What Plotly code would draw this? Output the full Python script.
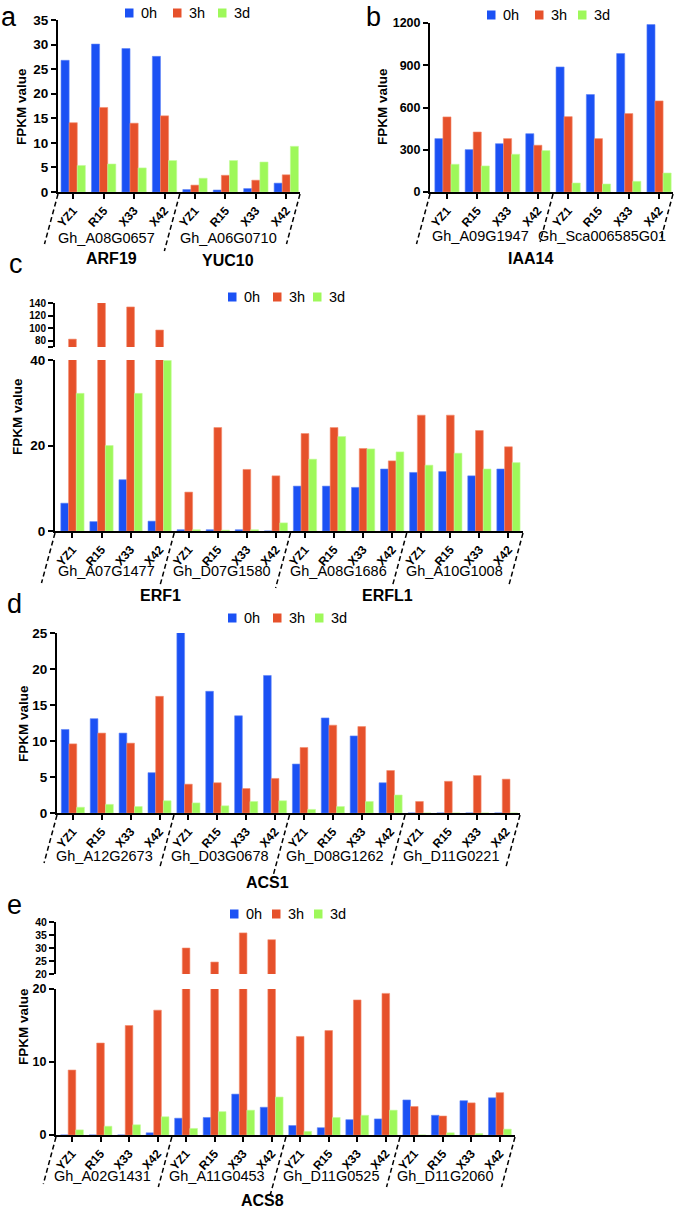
import plotly.graph_objects as go

W, H = 675, 1209
FONT = "Liberation Sans, Arial, Helvetica, sans-serif"

TIMES = ["0h", "3h", "3d"]
COLORS = ["#1b51f4", "#e6512b", "#9ef85a"]
EDGES = ["#5f85f7", "#f38b6c", "#c4fb9c"]
cultivars = ["YZ1", "R15", "X33", "X42"]

# ---------------- data ----------------
a_genes = ["Gh_A08G0657", "Gh_A06G0710"]
a_families = ["ARF19", "YUC10"]
a_0h = [26.8, 30.1, 29.2, 27.6, 0.5, 0.4, 0.7, 1.8]
a_3h = [14.1, 17.2, 14.0, 15.5, 1.4, 3.4, 2.4, 3.5]
a_3d = [5.4, 5.7, 4.9, 6.4, 2.8, 6.4, 6.1, 9.3]

b_genes = ["Gh_A09G1947", "Gh_Sca006585G01"]
b_families = ["IAA14"]
b_0h = [379, 301, 343, 414, 888, 692, 983, 1189]
b_3h = [533, 426, 379, 332, 535, 379, 557, 647]
b_3d = [197, 185, 268, 294, 64, 57, 76, 135]

c_genes = ["Gh_A07G1477", "Gh_D07G1580", "Gh_A08G1686", "Gh_A10G1008"]
c_families = ["ERF1", "ERFL1"]
c_0h = [6.5, 2.2, 12.0, 2.3, 0.3, 0.3, 0.3, 0.0, 10.5, 10.5, 10.2, 14.5, 13.7, 13.9, 12.9, 14.5]
c_3h = [82.5, 140.5, 133.7, 97.0, 9.1, 24.2, 14.4, 12.9, 22.8, 24.2, 19.3, 16.4, 27.1, 27.1, 23.5, 19.7]
c_3d = [32.2, 20.0, 32.2, 39.9, 0.3, 0.2, 0.3, 1.9, 16.8, 22.1, 19.2, 18.5, 15.4, 18.2, 14.5, 16.0]

d_genes = ["Gh_A12G2673", "Gh_D03G0678", "Gh_D08G1262", "Gh_D11G0221"]
d_families = ["ACS1"]
d_0h = [11.6, 13.1, 11.1, 5.6, 25.1, 16.9, 13.5, 19.1, 6.8, 13.2, 10.7, 4.2, 0, 0, 0, 0]
d_3h = [9.6, 11.1, 9.7, 16.2, 4.0, 4.2, 3.4, 4.8, 9.1, 12.2, 12.0, 5.9, 1.6, 4.4, 5.2, 4.7]
d_3d = [0.8, 1.2, 0.9, 1.7, 1.4, 1.0, 1.6, 1.7, 0.5, 0.9, 1.6, 2.5, 0, 0, 0, 0]

e_genes = ["Gh_A02G1431", "Gh_A11G0453", "Gh_D11G0525", "Gh_D11G2060"]
e_families = ["ACS8"]
e_0h = [0, 0, 0, 0.3, 2.3, 2.4, 5.6, 3.8, 1.3, 1.0, 2.1, 2.2, 4.8, 2.7, 4.7, 5.1]
e_3h = [8.9, 12.6, 15.0, 17.1, 30.0, 24.6, 35.8, 33.2, 13.5, 14.3, 18.5, 19.4, 3.9, 2.6, 4.4, 5.8]
e_3d = [0.7, 1.2, 1.4, 2.5, 0.9, 3.2, 3.4, 5.2, 0.5, 2.4, 2.7, 3.4, 0, 0.3, 0.2, 0.8]


def fx(px):
    return px / W


def fy(py):
    return 1 - py / H


panels = [
    dict(letter="a", letter_xy=(9, 17), genes=a_genes, series=[a_0h, a_3h, a_3d],
         xdom=(58, 300), xr=(-0.5, 7.45),
         parts=[dict(ydom=(20, 192), yr=(0, 35), tv=[0, 5, 10, 15, 20, 25, 30, 35], tt=None, ts=13.5)],
         gene_y=238, gene_dx=-12, line_len=[50, 57, 50],
         families=[(a_families[0], 1.5, -7, 258), (a_families[1], 5.5, -13, 260)],
         legend_sq=[125, 173, 218], legend_y=13, title_xy=(22, 106)),
    dict(letter="b", letter_xy=(373, 17), genes=b_genes, series=[b_0h, b_3h, b_3d],
         xdom=(430, 673), xr=(-0.56, 7.46),
         parts=[dict(ydom=(23, 192), yr=(0, 1200), tv=[0, 300, 600, 900, 1200], tt=None, ts=12.5)],
         gene_y=236, gene_dx=-12, line_len=[50, 48, 47],
         families=[(b_families[0], 3.5, -23, 258)],
         legend_sq=[487, 535, 578], legend_y=15, title_xy=(382, 107)),
    dict(letter="c", letter_xy=(16, 264), genes=c_genes, series=[c_0h, c_3h, c_3d],
         xdom=(55, 523), xr=(-0.6, 15.5),
         parts=[dict(ydom=(360, 531), yr=(0, 40), tv=[0, 20, 40], tt=None, ts=13.5),
                dict(ydom=(303, 347), yr=(70, 140), tv=[70, 80, 100, 120, 140],
                     tt=["", "80", "100", "120", "140"], ts=10)],
         gene_y=571, gene_dx=-10, line_len=[50, 52, 55, 52, 52],
         families=[(c_families[0], 3.5, -14, 595), (c_families[1], 11.5, -19, 595)],
         legend_sq=[228, 273, 313], legend_y=297, title_xy=(17, 417)),
    dict(letter="d", letter_xy=(14, 604), genes=d_genes, series=[d_0h, d_3h, d_3d],
         xdom=(57, 520), xr=(-0.55, 15.48),
         parts=[dict(ydom=(633, 813), yr=(0, 25), tv=[0, 5, 10, 15, 20, 25], tt=None, ts=13.5)],
         gene_y=856, gene_dx=-12, line_len=[48, 52, 63, 50, 52],
         families=[(d_families[0], 7.5, -22, 882)],
         legend_sq=[228, 273, 315], legend_y=618, title_xy=(23, 724)),
    dict(letter="e", letter_xy=(14, 905), genes=e_genes, series=[e_0h, e_3h, e_3d],
         xdom=(56, 515), xr=(-0.56, 15.53),
         parts=[dict(ydom=(989, 1135), yr=(0, 20), tv=[0, 10, 20], tt=None, ts=12.5),
                dict(ydom=(922, 974), yr=(20, 40), tv=[20, 25, 30, 35, 40], tt=None, ts=10.5)],
         gene_y=1176, gene_dx=-12, line_len=[47, 50, 58, 50, 50],
         families=[(e_families[0], 7.5, -23, 1200)],
         legend_sq=[230, 272, 314], legend_y=914, title_xy=(23, 1027)),
]

fig = go.Figure()
layout = dict(
    width=W, height=H, margin=dict(l=0, r=0, t=0, b=0),
    paper_bgcolor="white", plot_bgcolor="white", template="none",
    barmode="group", bargap=0.2, bargroupgap=0.0, showlegend=False,
    font=dict(family=FONT, color="black"),
)
shapes = []
annotations = []

ax_i = 0
for p_i, p in enumerate(panels):
    genes = p["genes"]
    n = len(genes) * len(cultivars)
    x0, x1 = p["xdom"]
    r0, r1 = p["xr"]

    def dpx(v, x0=x0, x1=x1, r0=r0, r1=r1):
        return x0 + (v - r0) / (r1 - r0) * (x1 - x0)

    base_y = p["parts"][0]["ydom"][1]

    for part_i, part in enumerate(p["parts"]):
        ax_i += 1
        sfx = "" if ax_i == 1 else str(ax_i)
        xa_name, ya_name = "xaxis" + sfx, "yaxis" + sfx
        xref, yref = "x" + sfx, "y" + sfx
        yt, yb = part["ydom"]
        is_main = part_i == 0
        layout[xa_name] = dict(
            domain=[fx(x0), fx(x1)], range=[r0, r1], anchor=yref,
            visible=is_main, showgrid=False, zeroline=False,
            showline=True, linecolor="black", linewidth=2,
            ticks="outside", ticklen=5, tickwidth=2, tickcolor="black",
            tickmode="array", tickvals=list(range(n)), ticktext=cultivars * len(genes),
            tickangle=-48, tickfont=dict(family=FONT, size=12, weight="bold", color="black"),
        )
        yax = dict(
            domain=[fy(yb), fy(yt)], range=list(part["yr"]), anchor=xref,
            showgrid=False, zeroline=False,
            showline=True, linecolor="black", linewidth=2,
            ticks="outside", ticklen=5, tickwidth=2, tickcolor="black",
            tickmode="array", tickvals=part["tv"],
            tickfont=dict(family=FONT, size=part["ts"], weight="bold", color="black"),
        )
        if part["tt"] is not None:
            yax["ticktext"] = part["tt"]
        layout[ya_name] = yax

        for j, t in enumerate(TIMES):
            fig.add_trace(go.Bar(
                x=list(range(n)), y=p["series"][j], name=t,
                marker=dict(color=COLORS[j], line=dict(color=EDGES[j], width=0.6)),
                xaxis=xref, yaxis=yref,
                hovertemplate="%{y}<extra>" + t + "</extra>",
            ))

    # legend: coloured squares + labels
    ly = p["legend_y"]
    for j, t in enumerate(TIMES):
        sx = p["legend_sq"][j]
        shapes.append(dict(
            type="rect", xref="paper", yref="paper",
            x0=fx(sx), x1=fx(sx + 8.5), y0=fy(ly + 4.5), y1=fy(ly - 4.5),
            fillcolor=COLORS[j], line=dict(width=0),
        ))
        annotations.append(dict(
            text=t, xref="paper", yref="paper", x=fx(sx + 14), y=fy(ly),
            xanchor="left", yanchor="middle", showarrow=False,
            font=dict(family=FONT, size=14.5, color="black"),
        ))

    # dashed separators under x-axis
    bnds = [x0] + [dpx(4 * g - 0.5) for g in range(1, len(genes))] + [x1]
    for b_i, bx in enumerate(bnds):
        L = p["line_len"][b_i]
        shapes.append(dict(
            type="line", xref="paper", yref="paper",
            x0=fx(bx), y0=fy(base_y + 2), x1=fx(bx - 0.27 * L), y1=fy(base_y + 2 + L),
            line=dict(color="black", width=1.5, dash="5px,3px"),
        ))

    # gene labels
    for g_i, g in enumerate(genes):
        cx = dpx(4 * g_i + 1.5) + p["gene_dx"]
        annotations.append(dict(
            text=g, xref="paper", yref="paper", x=fx(cx), y=fy(p["gene_y"]),
            xanchor="center", yanchor="middle", showarrow=False,
            font=dict(family=FONT, size=14.5, color="black"),
        ))
    # family labels
    for name, cidx, off, yy in p["families"]:
        annotations.append(dict(
            text=name, xref="paper", yref="paper", x=fx(dpx(cidx) + off), y=fy(yy),
            xanchor="center", yanchor="middle", showarrow=False,
            font=dict(family=FONT, size=16, weight="bold", color="black"),
        ))
    # y-axis title
    tx, ty = p["title_xy"]
    annotations.append(dict(
        text="FPKM value", xref="paper", yref="paper", x=fx(tx), y=fy(ty),
        xanchor="center", yanchor="middle", showarrow=False, textangle=-90,
        font=dict(family=FONT, size=13.5, weight="bold", color="black"),
    ))
    # panel letter
    lx, lyy = p["letter_xy"]
    annotations.append(dict(
        text=p["letter"], xref="paper", yref="paper", x=fx(lx), y=fy(lyy),
        xanchor="center", yanchor="middle", showarrow=False,
        font=dict(family=FONT, size=27, color="black"),
    ))

layout["shapes"] = shapes
layout["annotations"] = annotations
fig.update_layout(**layout)
fig.write_html("out.html", config={"displayModeBar": False},
               post_script="document.body.style.margin='0px';")
